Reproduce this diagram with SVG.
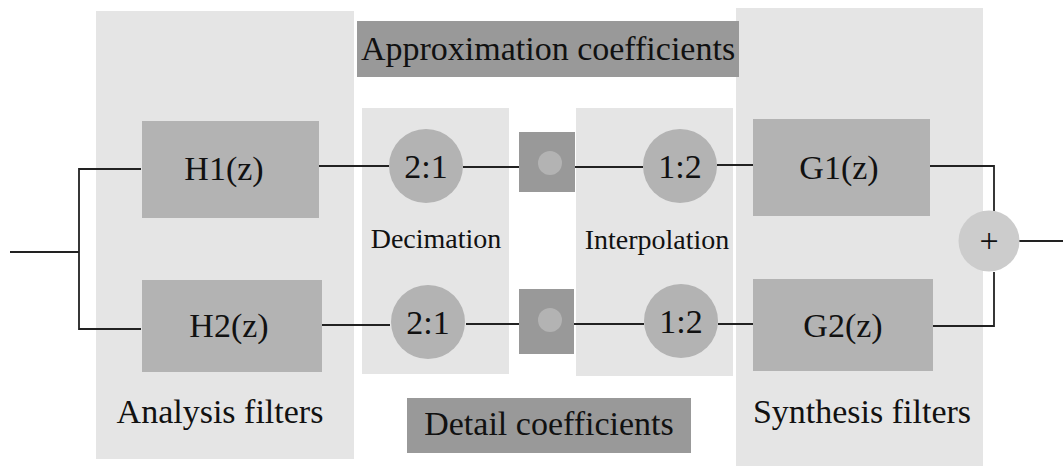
<svg xmlns="http://www.w3.org/2000/svg" width="1063" height="466" viewBox="0 0 1063 466">
<style>
.panel{fill:#e5e5e5}
.box{fill:#b3b3b3}
.dark{fill:#999999}
.circ{fill:#b3b3b3}
.plus{fill:#cccccc}
.t{font-family:"Liberation Serif","Times New Roman",serif;font-size:34px;fill:#111;text-anchor:middle}
.s{font-family:"Liberation Serif","Times New Roman",serif;font-size:28px;fill:#111;text-anchor:middle}
.c{fill:none;stroke:#222;stroke-width:1.8}
</style>
<rect width="1063" height="466" fill="#ffffff"/>
<g id="analysis-panel"><rect class="panel" x="96" y="11" width="258" height="448"/><text class="t" x="220" y="423">Analysis filters</text></g>
<g id="decimation-panel"><rect class="panel" x="362" y="108" width="147" height="266"/><text class="s" x="436" y="248">Decimation</text></g>
<g id="interpolation-panel"><rect class="panel" x="576" y="108" width="157" height="268"/><text class="s" x="657" y="249">Interpolation</text></g>
<g id="synthesis-panel"><rect class="panel" x="736" y="8" width="247" height="458"/><text class="t" x="862" y="423">Synthesis filters</text></g>
<g id="approx"><rect class="dark" x="357" y="21" width="382" height="56"/><text class="t" x="548" y="60">Approximation coefficients</text></g>
<g id="detail"><rect class="dark" x="407" y="398" width="284" height="55"/><text class="t" x="549" y="435">Detail coefficients</text></g>
<g id="connectors">
<polyline class="c" points="10,252 79,252"/>
<polyline class="c" points="141,169 79,169 79,329 141,329"/>
<polyline class="c" points="318,166 389,166"/>
<polyline class="c" points="322,325 390,325"/>
<polyline class="c" points="463,167 538,167"/>
<polyline class="c" points="562,167 643,167"/>
<polyline class="c" points="466,324 538,324"/>
<polyline class="c" points="562,324 644,324"/>
<polyline class="c" points="717,165 753,165"/>
<polyline class="c" points="718,324 753,324"/>
<polyline class="c" points="929,166 994,166 994,211"/>
<polyline class="c" points="932,326 994,326 994,272"/>
<polyline class="c" points="1019,241 1063,241"/>
</g>
<g id="H1"><rect class="box" x="142" y="121" width="177" height="97"/><text class="t" x="224" y="180">H1(z)</text></g>
<g id="H2"><rect class="box" x="142" y="280" width="180" height="92"/><text class="t" x="229" y="337">H2(z)</text></g>
<g id="dec1"><circle class="circ" cx="426" cy="166" r="37"/><text class="t" x="426" y="178">2:1</text></g>
<g id="dec2"><circle class="circ" cx="428" cy="322" r="37"/><text class="t" x="428" y="334">2:1</text></g>
<g id="approx-store"><rect class="dark" x="519" y="132" width="56" height="60"/><circle class="circ" cx="550" cy="163" r="12"/></g>
<g id="detail-store"><rect class="dark" x="519" y="289" width="55" height="65"/><circle class="circ" cx="550" cy="320" r="12"/></g>
<g id="int1"><circle class="circ" cx="680" cy="166" r="37"/><text class="t" x="680" y="178">1:2</text></g>
<g id="int2"><circle class="circ" cx="681" cy="321" r="37"/><text class="t" x="681" y="333">1:2</text></g>
<g id="G1"><rect class="box" x="753" y="119" width="177" height="97"/><text class="t" x="839" y="179">G1(z)</text></g>
<g id="G2"><rect class="box" x="753" y="279" width="180" height="92"/><text class="t" x="843" y="337">G2(z)</text></g>
<g id="sum"><circle class="plus" cx="989" cy="241" r="30.5"/><text class="t" x="989" y="252">+</text></g>
</svg>
